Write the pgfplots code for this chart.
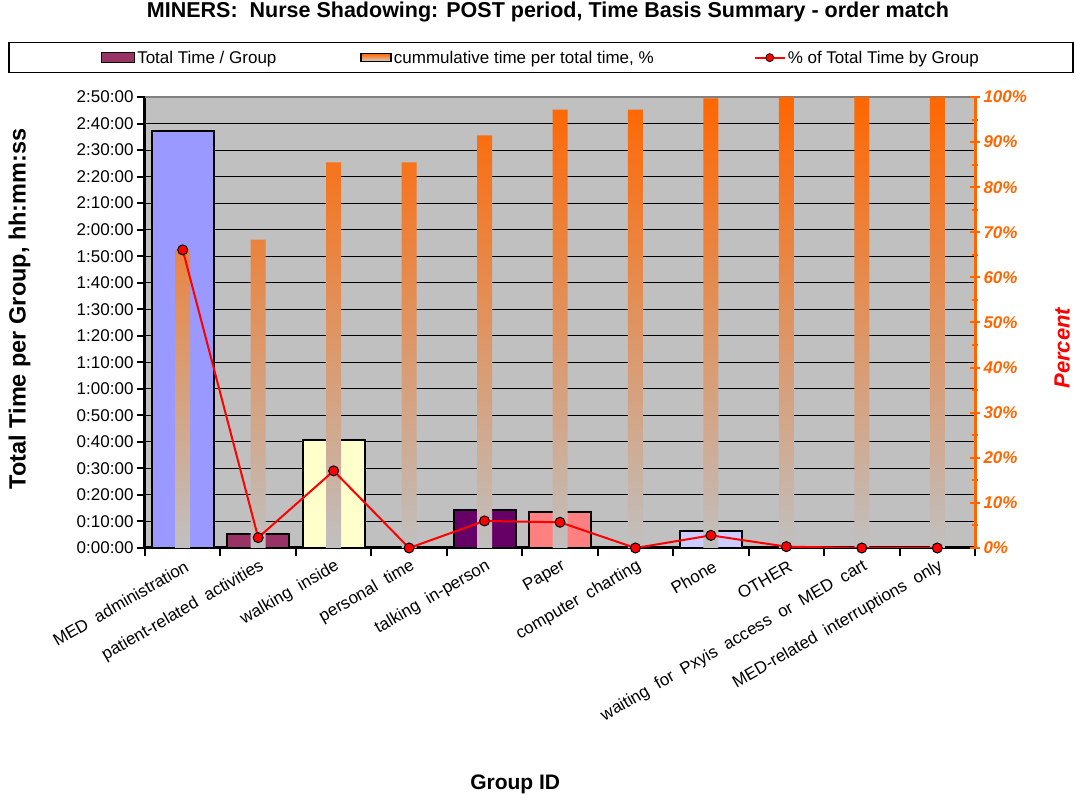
\documentclass[border=0pt]{standalone}
\usepackage{pgfplots}
\pgfplotsset{compat=1.18}
\usepackage{pgfplotstable}
\usepackage{fontspec}
\setmainfont{Liberation Sans}

\definecolor{bgray}{HTML}{C0C0C0}
\definecolor{xorange}{HTML}{FF6600}
\definecolor{c1}{HTML}{9999FF}
\definecolor{c2}{HTML}{993366}
\definecolor{c3}{HTML}{FFFFCC}
\definecolor{c4}{HTML}{CCFFFF}
\definecolor{c5}{HTML}{660066}
\definecolor{c6}{HTML}{FF8080}
\definecolor{c7}{HTML}{0066CC}
\definecolor{c8}{HTML}{CCCCFF}
\definecolor{c9}{HTML}{000080}
\definecolor{c10}{HTML}{FF00FF}
\definecolor{c11}{HTML}{FFFF00}

% cumulative % and % of total per group
\pgfplotstableread{
x cum pct
1 66.1 66.1
2 68.4 2.3
3 85.5 17.1
4 85.5 0
5 91.5 6.0
6 97.2 5.7
7 97.2 0
8 99.7 2.8
9 100 0.3
10 100 0
11 100 0
}\pcttable

\begin{document}
\begin{tikzpicture}
\useasboundingbox (-145pt,-251pt) rectangle (931pt,548pt);
\begin{axis}[
  at={(0pt,0pt)}, anchor=south west,
  scale only axis, width=830pt, height=451pt,
  xmin=0.5, xmax=11.5, ymin=0, ymax=170,
  axis x line*=bottom, axis y line*=left,
  axis line style={line width=3pt, black},
  axis background/.style={fill=bgray},
  ymajorgrids, grid style={black, line width=1pt},
  ytick={0,10,...,160},
  yticklabels={0:00:00,0:10:00,0:20:00,0:30:00,0:40:00,0:50:00,1:00:00,1:10:00,1:20:00,1:30:00,1:40:00,1:50:00,2:00:00,2:10:00,2:20:00,2:30:00,2:40:00},
  extra y ticks={170}, extra y tick labels={2:50:00},
  extra y tick style={grid style={draw=gray, line width=2pt}},
  xtick={0.5,1.5,...,11.5}, xticklabels={},
  extra x ticks={1,2,...,11},
  extra x tick labels={MED~~administration,patient-related~~activities,walking~~inside,personal~~time,talking~~in-person,Paper,computer~~charting,Phone,OTHER,waiting~~for~~Pxyis~~access~~or~~MED~~cart,MED-related~~interruptions~~only},
  extra x tick style={major tick length=0pt, xticklabel style={yshift=-16pt, xshift=6pt, rotate=30, anchor=east, inner sep=2pt}},
  tick align=outside, major tick length=8pt,
  tick style={black, line width=2pt},
  ticklabel style={font=\fontsize{17}{20}\selectfont},
  title={MINERS:~~Nurse Shadowing: POST period, Time Basis Summary - order match},
  title style={at={(axis description cs:0.4855,1.175)}, anchor=center, font=\bfseries\fontsize{21.5}{25}\selectfont},
  ylabel={Total Time per Group, hh:mm:ss},
  ylabel style={at={(axis description cs:-0.151,0.53)}, anchor=center, font=\bfseries\fontsize{23.5}{27}\selectfont},
  xlabel={Group ID},
  xlabel style={at={(axis description cs:0.446,-0.525)}, anchor=center, font=\bfseries\fontsize{21}{25}\selectfont},
]
% total time per group, minutes
\addplot[ybar, bar width=62pt, bar shift=0pt, fill=c1, draw=black, line width=2pt] coordinates {(1,157)};
\addplot[ybar, bar width=62pt, bar shift=0pt, fill=c2, draw=black, line width=2pt] coordinates {(2,5.3)};
\addplot[ybar, bar width=62pt, bar shift=0pt, fill=c3, draw=black, line width=2pt] coordinates {(3,40.7)};
\addplot[ybar, bar width=62pt, bar shift=0pt, fill=c4, draw=black, line width=2pt] coordinates {(4,0)};
\addplot[ybar, bar width=62pt, bar shift=0pt, fill=c5, draw=black, line width=2pt] coordinates {(5,14.3)};
\addplot[ybar, bar width=62pt, bar shift=0pt, fill=c6, draw=black, line width=2pt] coordinates {(6,13.4)};
\addplot[ybar, bar width=62pt, bar shift=0pt, fill=c7, draw=black, line width=2pt] coordinates {(7,0)};
\addplot[ybar, bar width=62pt, bar shift=0pt, fill=c8, draw=black, line width=2pt] coordinates {(8,6.5)};
\addplot[ybar, bar width=62pt, bar shift=0pt, fill=c9, draw=black, line width=1pt] coordinates {(9,0.5)};
\addplot[ybar, bar width=62pt, bar shift=0pt, fill=c10, draw=black, line width=2pt] coordinates {(10,0)};
\addplot[ybar, bar width=62pt, bar shift=0pt, fill=c11, draw=black, line width=2pt] coordinates {(11,0)};
\end{axis}

\begin{axis}[
  at={(0pt,0pt)}, anchor=south west,
  scale only axis, width=830pt, height=451pt,
  xmin=0.5, xmax=11.5, ymin=0, ymax=100,
  axis x line=none, axis y line*=right,
  axis line style={line width=3pt, xorange},
  ytick={0,10,...,100},
  yticklabels={0\%,10\%,20\%,30\%,40\%,50\%,60\%,70\%,80\%,90\%,100\%},
  minor y tick num=1,
  tick align=center, major tick length=10pt, minor tick length=6pt,
  ytick style={xorange, line width=2pt},
  yticklabel style={xorange, font=\bfseries\itshape\fontsize{17}{20}\selectfont},
  ylabel={Percent},
  ylabel style={red, at={(axis description cs:1.105,0.443)}, anchor=center, font=\bfseries\itshape\fontsize{22}{26}\selectfont},
  legend columns=3,
  legend cell align=left,
  legend style={at={(axis description cs:-0.16506,1.12195)}, anchor=north west,
    draw=black, line width=1.5pt, inner xsep=92pt, inner ysep=6pt,
    font=\fontsize{17}{20}\selectfont,
    /tikz/column 2/.style={column sep=82pt},
    /tikz/column 4/.style={column sep=98pt}},
]
\addlegendimage{legend image code/.code={\draw[fill=c2, draw=black, line width=1.5pt] (0pt,-5pt) rectangle (33pt,5pt);}}
\addlegendentry{Total Time / Group}
\addlegendimage{legend image code/.code={\fill[top color=xorange, bottom color=bgray!70!white] (0pt,-4pt) rectangle (30pt,4pt);}}
\addlegendentry{cummulative time per total time, \%}
\addlegendimage{legend image code/.code={\draw[red, line width=2pt] (0pt,0pt) -- (30pt,0pt); \filldraw[fill=red, draw=black, line width=0.8pt] (15pt,0pt) circle (4pt);}}
\addlegendentry{\% of Total Time by Group}

\addplot[forget plot, ybar, bar width=15pt, bar shift=0pt, draw=none, top color=xorange, bottom color=bgray] table[x=x, y=cum] {\pcttable};
\addplot[forget plot, red, line width=2pt, mark=*, mark size=5pt, mark options={fill=red, draw=black, line width=1pt}] table[x=x, y=pct] {\pcttable};
\end{axis}
\end{tikzpicture}
\end{document}
